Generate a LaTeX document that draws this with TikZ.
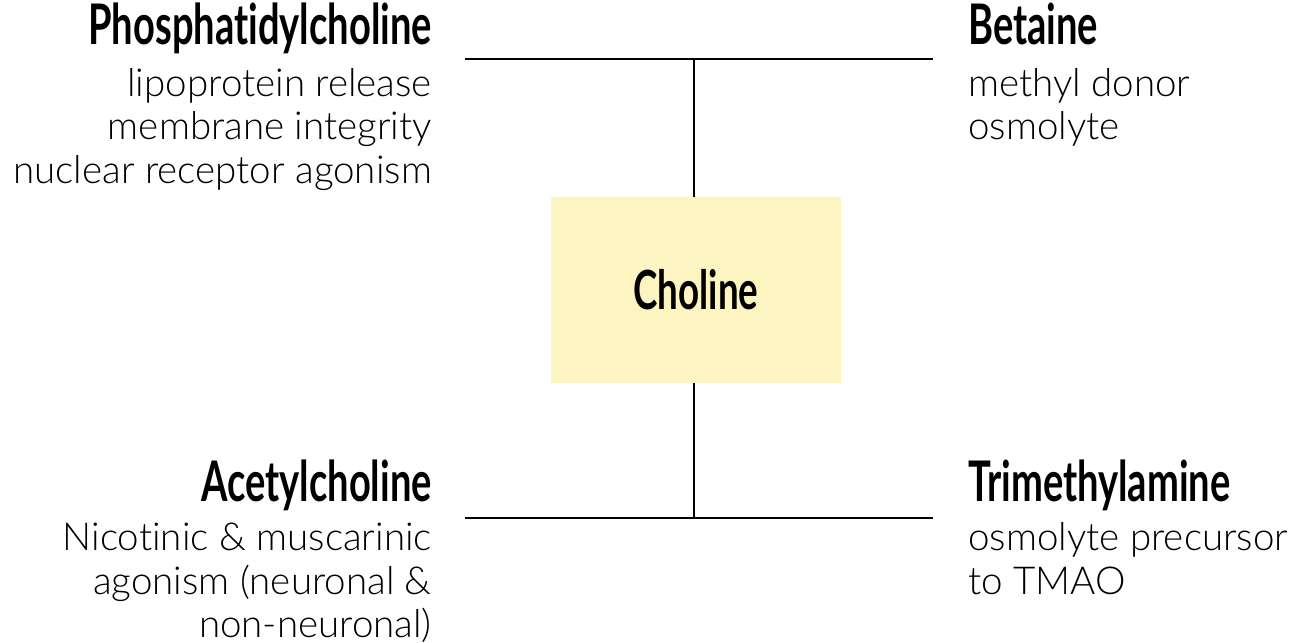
\documentclass[tikz,border=0pt]{standalone}
\usepackage{fontspec}
\setmainfont{Lato}[UprightFont=* Light, BoldFont=* Bold, Ligatures=NoCommon]
\newfontfamily\titlefont{Lato}[UprightFont=* Bold, FakeStretch=0.68, Ligatures=NoCommon]
\definecolor{boxyellow}{HTML}{FDF5C1}
\begin{document}
\begin{tikzpicture}[x=1pt,y=-1pt,
  title/.style={inner sep=0pt,font=\titlefont\fontsize{56}{60}\selectfont},
  body/.style={inner sep=0pt,font=\fontsize{38.5}{44}\selectfont},
  link/.style={line width=2pt},
  hub/.style={fill=boxyellow,minimum width=290pt,minimum height=186pt,inner sep=0pt,font=\titlefont\fontsize{54}{58}\selectfont}]
\useasboundingbox (0,0) rectangle (1289,642);
\node[hub] (ch) at (696,290) {Choline};
\coordinate (tl) at (465,59);
\coordinate (tr) at (933,59);
\coordinate (tm) at (694,59);
\coordinate (bl) at (465,518);
\coordinate (br) at (933,518);
\coordinate (bm) at (694,518);
\draw[link] (tl) -- (tr);
\draw[link] (bl) -- (br);
\draw[link] (tm) -- (tm |- ch.north);
\draw[link] (bm) -- (bm |- ch.south);
% top left
\node[title,anchor=base east] (pc) at (432,45) {Phosphatidylcholine};
\node[body,anchor=base east] (pc1) at (432,96) {lipoprotein release};
\node[body,anchor=base east] (pc2) at (432,139) {membrane integrity};
\node[body,anchor=base east] (pc3) at (432,183) {nuclear receptor agonism};
% top right
\node[title,anchor=base west] (bt) at (968,45) {Betaine};
\node[body,anchor=base west] (bt1) at (968,96) {methyl donor};
\node[body,anchor=base west] (bt2) at (968,139) {osmolyte};
% bottom left
\node[title,anchor=base east] (ac) at (432,501) {Acetylcholine};
\node[body,anchor=base east] (ac1) at (432,550) {Nicotinic \& muscarinic};
\node[body,anchor=base east] (ac2) at (432,594) {agonism (neuronal \&};
\node[body,anchor=base east] (ac3) at (432,637) {non-neuronal)};
% bottom right
\node[title,anchor=base west] (tm1) at (968,501) {Trimethylamine};
\node[body,anchor=base west] (tm2) at (968,550) {osmolyte precursor};
\node[body,anchor=base west] (tm3) at (968,594) {to TMAO};
\end{tikzpicture}
\end{document}
